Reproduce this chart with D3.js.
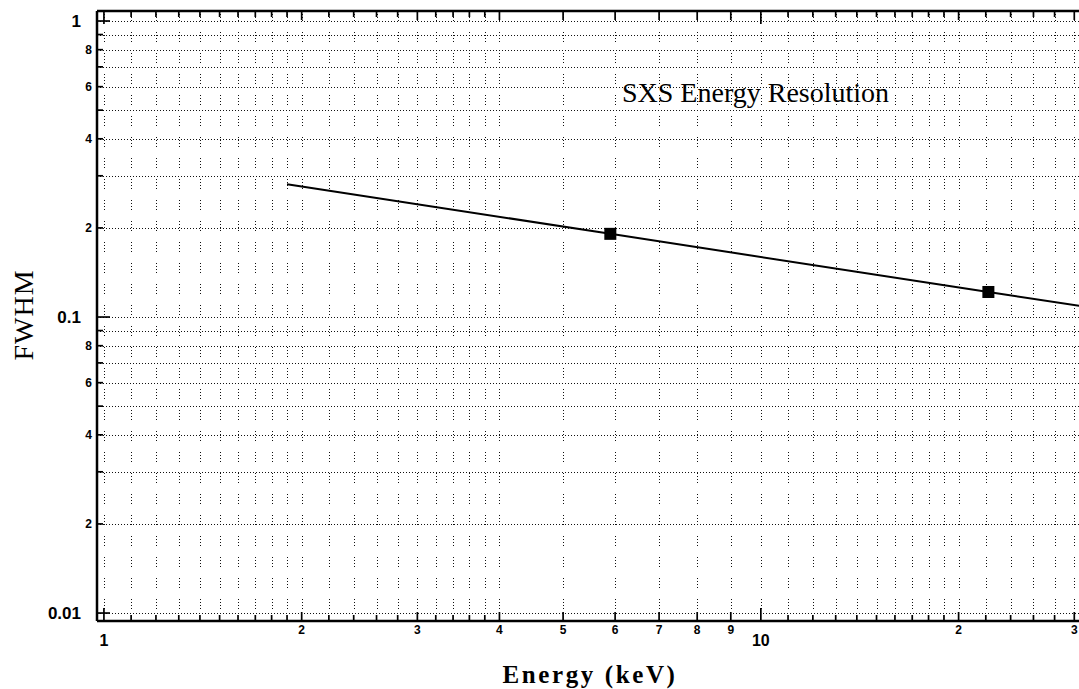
<!DOCTYPE html>
<html>
<head>
<meta charset="utf-8">
<script src="https://cdn.jsdelivr.net/npm/d3@7"></script>
<style>
  html, body { margin: 0; padding: 0; background: #fff; }
  svg { display: block; }
</style>
</head>
<body>
<svg id="chart" width="1079" height="689"></svg>
<script>
// ---- data ----
const markerEnergy = [5.9, 22.2];          // keV
const markerFWHM   = [0.191, 0.1215];
const lineEnergy   = [1.9, 5.9, 22.2, 30.6];
const lineFWHM     = [0.281, 0.191, 0.1215, 0.109];

const xTickValues = [1,1.1,1.2,1.3,1.4,1.5,1.6,1.7,1.8,1.9,2,2.2,2.4,2.6,2.8,3,3.2,3.4,3.6,3.8,4,5,6,7,8,9,10,11,12,13,14,15,16,17,18,19,20,22,24,26,28,30];
const xMajorValues = [1, 10];
const xMajorLabels = ["1", "10"];
const xMinorLabelValues = [2,3,4,5,6,7,8,9,20,30];
const xMinorLabels = ["2","3","4","5","6","7","8","9","2","3"];

const yTickValues = [0.01,0.02,0.03,0.04,0.05,0.06,0.07,0.08,0.09,0.1,0.2,0.3,0.4,0.5,0.6,0.7,0.8,0.9,1];
const yMajorValues = [0.01, 0.1, 1];
const yMajorLabels = ["0.01", "0.1", "1"];
const yMinorLabelValues = [0.02,0.04,0.06,0.08,0.2,0.4,0.6,0.8];
const yMinorLabels = ["2","4","6","8","2","4","6","8"];

const titleText = "SXS Energy Resolution";
const xTitle = "Energy (keV)";
const yTitle = "FWHM";

// ---- layout ----
const L = 97, R = 1079, T = 11, B = 621;
const x = d3.scaleLog().domain([0.976, 30.5]).range([L, R]);
const y = d3.scaleLog().domain([0.0094, 1.081]).range([B, T]);

const svg = d3.select("#chart");
const g = svg.append("g");

// grid - horizontal
g.append("g").attr("shape-rendering", "crispEdges")
  .selectAll("line").data(yTickValues).join("line")
  .attr("x1", L).attr("x2", R)
  .attr("y1", d => Math.round(y(d)) + 0.5).attr("y2", d => Math.round(y(d)) + 0.5)
  .attr("stroke", "#111").attr("stroke-width", 1)
  .attr("stroke-dasharray", "1,2");

// grid - vertical
g.append("g").attr("shape-rendering", "crispEdges")
  .selectAll("line").data(xTickValues).join("line")
  .attr("x1", d => Math.round(x(d)) + 0.5).attr("x2", d => Math.round(x(d)) + 0.5)
  .attr("y1", T).attr("y2", B)
  .attr("stroke", "#111").attr("stroke-width", 1)
  .attr("stroke-dasharray", "1,2,1,2,1,2,1,11");

// axis frame lines
g.append("line").attr("x1", L).attr("x2", R).attr("y1", B).attr("y2", B)
  .attr("stroke", "#000").attr("stroke-width", 2.5);
g.append("line").attr("x1", L).attr("x2", R).attr("y1", T).attr("y2", T)
  .attr("stroke", "#000").attr("stroke-width", 2.5);
g.append("line").attr("x1", L).attr("x2", L).attr("y1", T).attr("y2", B)
  .attr("stroke", "#000").attr("stroke-width", 2.5);

// ticks (inward on bottom, top, left)
function xTickLen(d) {
  if (xMajorValues.includes(d)) return 13;
  if (xMinorLabelValues.includes(d)) return 9;
  return 6;
}
function yTickLen(d) {
  if (yMajorValues.includes(d)) return 13;
  return 6;
}
const xt = g.append("g");
xt.selectAll("line.b").data(xTickValues).join("line").attr("class", "b")
  .attr("x1", d => x(d)).attr("x2", d => x(d))
  .attr("y1", B).attr("y2", d => B - xTickLen(d))
  .attr("stroke", "#000").attr("stroke-width", 1.7);
xt.selectAll("line.t").data(xTickValues).join("line").attr("class", "t")
  .attr("x1", d => x(d)).attr("x2", d => x(d))
  .attr("y1", T).attr("y2", d => T + xTickLen(d))
  .attr("stroke", "#000").attr("stroke-width", 1.7);

const yt = g.append("g");
yt.selectAll("line").data(yTickValues).join("line")
  .attr("x1", L).attr("x2", d => L + yTickLen(d))
  .attr("y1", d => y(d)).attr("y2", d => y(d))
  .attr("stroke", "#000").attr("stroke-width", 1.7);

// tick labels
const sans = "'Liberation Sans', Arial, sans-serif";
g.append("g").selectAll("text").data(xMajorValues).join("text")
  .attr("x", d => x(d)).attr("y", 646)
  .attr("text-anchor", "middle")
  .attr("font-family", sans).attr("font-weight", "bold").attr("font-size", 16)
  .text((d, i) => xMajorLabels[i]);
g.append("g").selectAll("text").data(xMinorLabelValues).join("text")
  .attr("x", d => x(d)).attr("y", 634)
  .attr("text-anchor", "middle")
  .attr("font-family", sans).attr("font-weight", "bold").attr("font-size", 12)
  .text((d, i) => xMinorLabels[i]);

g.append("g").selectAll("text").data(yMajorValues).join("text")
  .attr("x", 81).attr("y", d => y(d) + 6)
  .attr("text-anchor", "end")
  .attr("font-family", sans).attr("font-weight", "bold").attr("font-size", 17)
  .text((d, i) => yMajorLabels[i]);
g.append("g").selectAll("text").data(yMinorLabelValues).join("text")
  .attr("x", 92).attr("y", d => y(d) + 4.5)
  .attr("text-anchor", "end")
  .attr("font-family", sans).attr("font-weight", "bold").attr("font-size", 12)
  .text((d, i) => yMinorLabels[i]);

// data line
const lineData = lineEnergy.map((e, i) => [e, lineFWHM[i]]);
g.append("path").datum(lineData)
  .attr("d", d3.line().x(d => x(d[0])).y(d => y(d[1])))
  .attr("fill", "none").attr("stroke", "#000").attr("stroke-width", 2);

// markers
const ms = 12;
g.append("g").selectAll("rect").data(markerEnergy).join("rect")
  .attr("x", d => x(d) - ms / 2)
  .attr("y", (d, i) => y(markerFWHM[i]) - ms / 2)
  .attr("width", ms).attr("height", ms)
  .attr("fill", "#000");

// titles
const serif = "'Liberation Serif', 'Times New Roman', serif";
svg.append("text").attr("x", 622).attr("y", 102)
  .attr("font-family", serif).attr("font-size", 28)
  .text(titleText);

svg.append("text").attr("x", 590).attr("y", 683)
  .attr("text-anchor", "middle")
  .attr("font-family", serif).attr("font-weight", "bold").attr("font-size", 25)
  .attr("letter-spacing", 2.6)
  .text(xTitle);

svg.append("text")
  .attr("transform", "translate(33,315) rotate(-90)")
  .attr("text-anchor", "middle")
  .attr("font-family", serif).attr("font-size", 28)
  .attr("letter-spacing", 1)
  .text(yTitle);
</script>
</body>
</html>
